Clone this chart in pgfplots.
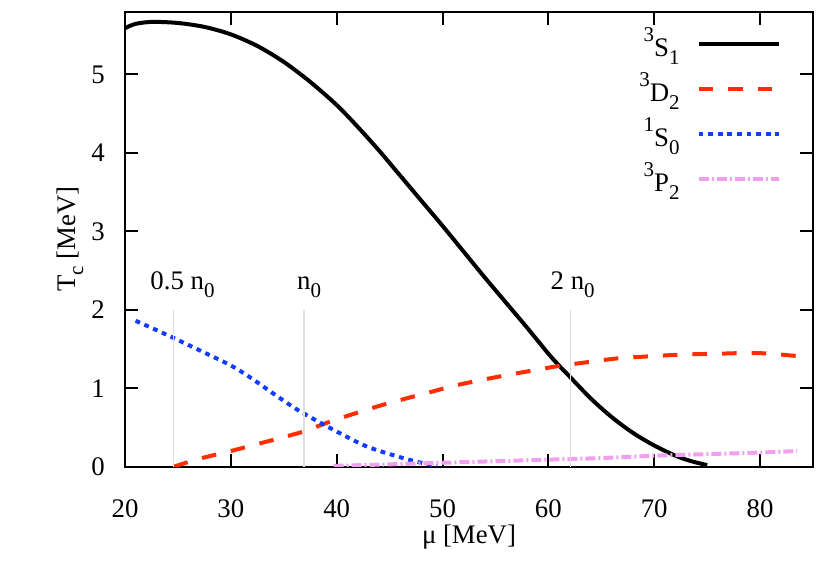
\documentclass[border=0pt]{standalone}
\usepackage{fontspec}
\setmainfont{Liberation Serif}
\usepackage{pgfplots}
\pgfplotsset{compat=1.18}
\definecolor{cred}{RGB}{255,45,0}
\definecolor{cblue}{RGB}{20,60,255}
\definecolor{cpink}{RGB}{240,160,238}
\newcommand{\sups}[1]{\raisebox{0.55em}{\fontsize{10.5}{12}\selectfont #1}}
\newcommand{\subs}[1]{\raisebox{-0.3em}{\fontsize{10.5}{12}\selectfont #1}}
\begin{document}
\fontsize{13.4}{16}\selectfont
\begin{tikzpicture}
\begin{axis}[
  scale only axis,
  width=344pt, height=227.5pt,
  xmin=20, xmax=85, ymin=0, ymax=5.8,
  xtick={20,30,...,80}, ytick={0,1,...,5},
  /pgf/number format/assume math mode=true,
  ticklabel style={font=\fontsize{13.4}{16}\selectfont},
  axis line style={line width=1pt},
  every tick/.style={black, line width=1pt},
  major tick length=6.5pt,
  yticklabel style={xshift=-5.5pt},
  xticklabel style={yshift=-12pt},
  every axis y label/.style={at={(axis description cs:-0.080,0.5)},rotate=90,anchor=center},
  every axis x label/.style={at={(axis description cs:0.5,-0.155)},anchor=center},
  ylabel={T\subs{c} [MeV]},
  xlabel={μ [MeV]},
  legend plot pos=right,
  legend cell align=right,
  legend image code/.code={\draw[#1] (0pt,0pt) -- (40pt,0pt);},
  legend style={draw=none, fill=none, inner sep=0pt, row sep=2.2pt, column sep=6.5pt,
    at={(rel axis cs:0.9535,0.975)}, anchor=north east,
    font=\fontsize{13.4}{16}\selectfont},
]
\addplot[black, line width=2pt, smooth] coordinates {
(20,5.59) (21,5.645) (22.6,5.67) (25,5.656) (27.5,5.606) (30,5.511) (32.5,5.363)
(35,5.16) (37.5,4.905) (40,4.61) (42,4.33) (44,4.03) (46,3.71) (48,3.39)
(50,3.07) (52,2.74) (54,2.41) (56,2.09) (58,1.77) (60,1.44) (61,1.29) (62,1.15)
(64,0.87) (66,0.63) (68,0.43) (70,0.27) (72,0.14) (73.5,0.07) (75,0.02)};
\addlegendentry{\sups{3}S\subs{1}}
\addplot[cred, line width=2pt, dash pattern=on 7.3pt off 7.5pt, smooth] coordinates {
(24.6,0.0) (27,0.10) (30,0.20) (33.4,0.32) (36.9,0.45) (39.7,0.59) (44.4,0.79)
(49.1,0.96) (51.35,1.04) (55.4,1.15) (60.8,1.28) (63,1.32) (66.5,1.38) (70,1.41)
(72.8,1.43) (76,1.44) (79,1.45) (81,1.44) (83.5,1.41)};
\addlegendentry{\sups{3}D\subs{2}}
\addplot[cblue, line width=2pt, dash pattern=on 2.4pt off 2.4pt, smooth] coordinates {
(21,1.86) (22.5,1.77) (24.6,1.64) (27.1,1.48) (30,1.29) (31.8,1.14) (33.4,0.99)
(35,0.84) (36.6,0.70) (39.7,0.47) (42.8,0.26) (46,0.12) (48,0.05) (49.5,0.01)};
\addlegendentry{\sups{1}S\subs{0}}
\addplot[cpink, line width=2pt, dash pattern=on 5pt off 1.5pt on 1pt off 1.5pt, smooth] coordinates {
(39.7,0.01) (45,0.03) (50,0.05) (55,0.07) (60,0.09) (65,0.11) (70,0.14)
(75,0.16) (80,0.18) (83.5,0.20)};
\addlegendentry{\sups{3}P\subs{2}}
\addplot[black!13, line width=0.8pt, forget plot] coordinates {(24.6,0) (24.6,2)};
\addplot[black!13, line width=0.8pt, forget plot] coordinates {(36.9,0) (36.9,2)};
\addplot[black!13, line width=0.8pt, forget plot] coordinates {(62.1,0) (62.1,2)};
\node[anchor=base, inner sep=0pt] at (axis cs:25.43,2.26) {0.5 n\subs{0}};
\node[anchor=base, inner sep=0pt] at (axis cs:37.4,2.26) {n\subs{0}};
\node[anchor=base, inner sep=0pt] at (axis cs:62.3,2.26) {2 n\subs{0}};
\end{axis}
\path ([shift={(-62.5pt,-58.2pt)}]current axis.south west) rectangle ([shift={(8.5pt,5.85pt)}]current axis.north east);
\end{tikzpicture}
\end{document}
